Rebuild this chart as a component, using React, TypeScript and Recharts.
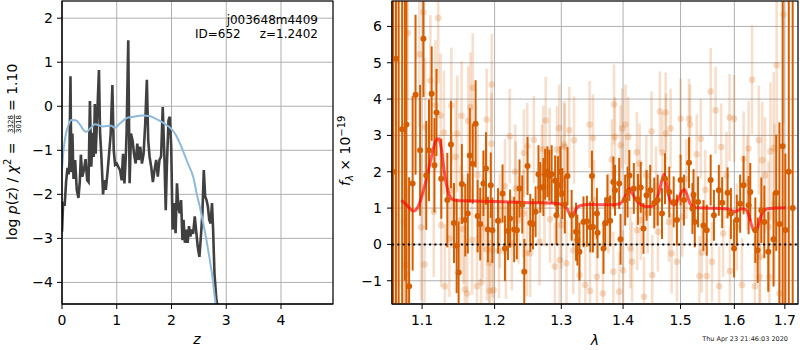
import React from 'react';
import { ComposedChart, Line, Scatter, ErrorBar, XAxis, YAxis, CartesianGrid, ReferenceLine } from 'recharts';

const FONT = '"DejaVu Sans", Verdana, sans-serif';

// ---------- left panel: log p(z) ----------
const pzZ = [0, 0.02, 0.05, 0.075, 0.1, 0.12, 0.135, 0.155, 0.17, 0.19, 0.21, 0.24, 0.27, 0.3, 0.325, 0.345, 0.37, 0.4, 0.43, 0.46, 0.485, 0.51, 0.535, 0.56, 0.58, 0.6, 0.615, 0.645, 0.675, 0.695, 0.72, 0.75, 0.775, 0.8, 0.83, 0.86, 0.89, 0.92, 0.945, 0.97, 1.0, 1.03, 1.06, 1.09, 1.115, 1.14, 1.165, 1.18, 1.21, 1.235, 1.26, 1.29, 1.315, 1.345, 1.375, 1.4, 1.43, 1.46, 1.49, 1.52, 1.55, 1.575, 1.6, 1.63, 1.66, 1.69, 1.72, 1.75, 1.78, 1.81, 1.84, 1.87, 1.895, 1.915, 1.945, 1.97, 1.995, 2.02, 2.045, 2.075, 2.1, 2.125, 2.15, 2.175, 2.2, 2.22, 2.245, 2.27, 2.295, 2.32, 2.345, 2.37, 2.395, 2.425, 2.45, 2.48, 2.51, 2.54, 2.565, 2.59, 2.615, 2.64, 2.665, 2.69, 2.715, 2.74, 2.76, 2.785, 2.82, 2.85];
const pzLog = [-2.85, -2.2, -2.22, -1.71, -1.4, -1.55, -1.3, 0.68, -1.5, -0.62, -1.65, -1.22, -1.9, -2.08, -1.72, -1.1, -1.6, -1.45, -1.2, -1.68, -1.72, 0.12, -1.37, -0.6, -1.15, 0.05, -1.08, -0.15, 0.82, -0.6, -1.15, -2.0, -1.68, -1.9, -1.52, -1.08, -0.62, 0.48, -1.0, -1.33, -1.3, -1.38, -1.45, -1.68, -1.08, -1.75, -1.15, -0.6, 1.5, -1.75, -0.62, -0.78, -1.08, -1.3, -0.85, -1.22, -0.92, -1.3, -1.08, -0.4, 0.6, -0.78, -1.15, -1.38, -1.72, -1.45, -1.22, -1.6, -1.22, -1.14, -0.02, -1.14, -2.36, -1.38, -0.32, -0.24, -0.92, -2.8, -2.2, -2.88, -1.75, -2.28, -2.43, -2.13, -3.04, -2.58, -3.1, -2.8, -3.1, -2.72, -2.96, -2.8, -2.9, -2.5, -2.82, -3.2, -3.42, -2.9, -2.42, -1.45, -2.05, -2.13, -2.28, -2.58, -2.66, -2.2, -2.8, -3.8, -4.4, -4.6];

const priorZ = [0, 0.02, 0.06, 0.12, 0.17, 0.25, 0.33, 0.4, 0.45, 0.52, 0.6, 0.75, 0.9, 0.96, 1.05, 1.18, 1.3, 1.48, 1.6, 1.69, 1.8, 1.9, 1.97, 2.08, 2.18, 2.3, 2.4, 2.46, 2.52, 2.58, 2.64, 2.7, 2.75, 2.79, 2.83];
const priorLog = [-1.45, -1.1, -0.7, -0.42, -0.31, -0.32, -0.42, -0.55, -0.58, -0.5, -0.41, -0.46, -0.44, -0.49, -0.4, -0.27, -0.24, -0.21, -0.22, -0.27, -0.34, -0.42, -0.48, -0.65, -0.92, -1.3, -1.62, -1.98, -2.3, -2.66, -3.05, -3.49, -3.9, -4.33, -4.7];

const zTicks = [0, 1, 2, 3, 4];
const pzTicks = [-4, -3, -2, -1, 0, 1, 2];

// ---------- right panel: spectrum ----------
const darkLam = [1.0625, 1.066, 1.0695, 1.074, 1.0775, 1.0795, 1.083, 1.0876, 1.0914, 1.0974, 1.1018, 1.1055, 1.1092, 1.1127, 1.1164, 1.1192, 1.1256, 1.1338, 1.1388, 1.1429, 1.1466, 1.1493, 1.1538, 1.1585, 1.162, 1.1648, 1.1689, 1.173, 1.1758, 1.1795, 1.184, 1.1877, 1.1904, 1.1945, 1.1968, 1.2049, 1.2115, 1.215, 1.2195, 1.2225, 1.2285, 1.2325, 1.2364, 1.2405, 1.2435, 1.2484, 1.2525, 1.2565, 1.2605, 1.2649, 1.2675, 1.2724, 1.275, 1.2785, 1.2814, 1.285, 1.2904, 1.2925, 1.2949, 1.2985, 1.3016, 1.3055, 1.3097, 1.3162, 1.3232, 1.3253, 1.3286, 1.3351, 1.3406, 1.346, 1.3487, 1.3503, 1.3568, 1.3578, 1.3675, 1.3703, 1.374, 1.3784, 1.3838, 1.3865, 1.3935, 1.3958, 1.4035, 1.4076, 1.4106, 1.4182, 1.4252, 1.43, 1.4347, 1.44, 1.4464, 1.4534, 1.4594, 1.467, 1.4723, 1.4799, 1.4877, 1.4935, 1.5, 1.5061, 1.5153, 1.5215, 1.5235, 1.5258, 1.5318, 1.5418, 1.5479, 1.5552, 1.5613, 1.5705, 1.5768, 1.5871, 1.5934, 1.5995, 1.6047, 1.6112, 1.6178, 1.6276, 1.6309, 1.6408, 1.6454, 1.6527, 1.6586, 1.6665, 1.677, 1.6824, 1.6889, 1.6955, 1.701, 1.708, 1.716];
const darkFlux = [2.0, 5.11, 7.2, 3.17, 8.0, 3.3, -1.15, 1.68, 4.12, 2.59, 5.66, 1.9, 2.59, 4.15, 2.18, 3.63, 1.81, 1.22, 2.75, 0.59, -0.04, -0.77, 1.66, 0.67, 0.85, 2.45, 2.22, 3.32, 0.78, 0.56, 1.68, 2.09, 0.41, 1.63, 0.39, 0.65, 1.4, -0.11, 0.37, 0.71, 0.41, 0.39, 1.54, 1.1, -0.75, 2.16, 0.59, 0.56, 0.9, 1.93, 1.57, 1.58, 1.93, 2.0, 1.9, 1.93, 1.75, 0.8, 1.63, 2.0, 1.4, 1.1, 1.88, 0.8, 0.35, 0.12, -0.2, 0.62, 0.64, 0.48, 1.88, 0.48, 0.85, 0.32, -0.11, 0.59, 1.22, 0.65, 1.72, 1.49, 1.68, 0.14, 1.22, 1.44, 1.9, 1.54, 1.24, 1.57, 0.44, 1.35, 1.49, 1.14, 1.22, 0.85, 1.81, 1.44, 1.17, 0.67, 1.77, 1.22, 2.25, 0.99, 1.37, 0.62, 1.17, 0.52, 0.39, 1.77, 0.8, 1.49, 1.15, 1.42, 0.85, -0.11, 0.67, 1.12, 1.63, 1.08, 1.44, 0.39, -0.16, 0.94, 0.62, -0.2, 0.14, 1.42, 0.56, 2.7, 0.4, 2.0, 1.0];
const darkErr = [9, 9, 9, 9, 9, 6, 3, 2.4, 2.2, 1.8, 1.6, 1.5, 1.4, 1.3, 1.3, 1.2, 1.1, 1.3, 1.2, 1.1, 1.3, 1.4, 1.1, 1.0, 1.1, 1.3, 1.1, 1.2, 1.0, 1.0, 0.9, 1.0, 0.9, 0.9, 0.9, 0.9, 0.8, 0.9, 0.8, 0.8, 0.9, 0.8, 0.8, 0.8, 0.9, 0.8, 0.8, 0.7, 0.7, 0.8, 0.7, 0.8, 0.7, 0.7, 0.7, 0.8, 0.7, 0.8, 0.8, 0.7, 0.7, 0.8, 0.8, 0.7, 0.8, 0.7, 0.8, 0.7, 0.7, 0.7, 0.7, 0.7, 0.7, 0.7, 0.7, 0.7, 0.7, 0.7, 0.7, 0.7, 0.7, 0.7, 0.7, 0.7, 0.7, 0.7, 0.7, 0.7, 0.7, 0.7, 0.7, 0.7, 0.7, 0.7, 0.7, 0.7, 0.7, 0.7, 0.7, 0.7, 0.7, 0.7, 0.7, 0.7, 0.7, 0.7, 0.7, 0.7, 0.7, 0.7, 0.7, 0.7, 0.7, 0.8, 0.7, 0.8, 0.8, 0.8, 0.8, 0.9, 0.9, 0.9, 1.0, 1.1, 1.3, 1.6, 2.8, 9, 2.1, 9, 9];

const lightLam = [1.076, 1.0782, 1.0804, 1.0812, 1.0965, 1.0987, 1.1018, 1.1032, 1.1041, 1.111, 1.1155, 1.1178, 1.1215, 1.1247, 1.1256, 1.1292, 1.1305, 1.1366, 1.1393, 1.14, 1.1452, 1.1475, 1.1521, 1.1534, 1.1558, 1.1579, 1.1612, 1.1626, 1.1658, 1.1681, 1.1689, 1.1749, 1.1758, 1.1808, 1.1832, 1.185, 1.1886, 1.189, 1.1922, 1.1932, 1.1955, 1.1959, 1.1968, 1.1984, 1.2064, 1.2075, 1.215, 1.2164, 1.2219, 1.23, 1.2251, 1.2309, 1.2349, 1.2424, 1.2429, 1.2475, 1.248, 1.2525, 1.2579, 1.2665, 1.27, 1.272, 1.274, 1.2759, 1.2819, 1.2825, 1.29, 1.2934, 1.2969, 1.2975, 1.3, 1.3003, 1.3044, 1.3054, 1.3081, 1.3124, 1.3189, 1.32, 1.3286, 1.3379, 1.3449, 1.3455, 1.3503, 1.3519, 1.3568, 1.3666, 1.3757, 1.3812, 1.3838, 1.3849, 1.3865, 1.3935, 1.3958, 1.3984, 1.4, 1.4041, 1.4087, 1.4124, 1.4153, 1.4235, 1.424, 1.4281, 1.43, 1.4357, 1.4395, 1.4418, 1.4487, 1.4499, 1.4565, 1.4598, 1.4633, 1.4676, 1.4734, 1.474, 1.4792, 1.4822, 1.4839, 1.4935, 1.5, 1.503, 1.5105, 1.5153, 1.5171, 1.5294, 1.5343, 1.5368, 1.5386, 1.545, 1.5478, 1.5552, 1.5576, 1.5644, 1.5711, 1.5749, 1.5787, 1.585, 1.5908, 1.5915, 1.5995, 1.6047, 1.6147, 1.6178, 1.625, 1.6276, 1.6344, 1.6399, 1.6476, 1.6489, 1.6502, 1.6543, 1.66, 1.6671, 1.6687, 1.6708, 1.6774, 1.6788, 1.6833, 1.6888, 1.6971];
const lightFlux = [0.62, -0.57, -0.82, 5.82, 5.23, 0.47, 6.39, -0.55, 3.23, 4.51, 0.9, 3.83, 6.23, 3.55, 0.53, 3.08, -1.15, 0.16, 3.82, 1.5, 2.41, 3.05, 0.67, 3.54, 0.42, -1.24, -1.35, 3.4, 3.78, 0.12, 4.31, -1.15, 1.9, -1.04, 0.46, 1.2, 3.44, -0.14, -0.51, -1.28, 2.77, 4.4, -0.16, -1.26, -0.18, 0.65, 1.6, -0.2, 2.98, 2.0, 0.03, 1.54, 0.67, 0.85, 2.52, -0.23, 2.7, -0.25, 2.88, 0.07, 2.1, 2.62, 1.14, 3.41, 2.56, 0.69, -0.61, 2.61, 3.2, -0.43, 1.8, 0.53, 2.75, 2.68, -0.52, 3.14, -0.16, 2.87, -0.84, -1.12, 3.3, -1.28, 2.93, 1.22, -0.89, -1.35, 0.85, 2.34, -0.75, 3.85, 2.96, -1.3, 2.73, 3.19, -0.71, 3.3, 2.96, -0.11, -0.48, 2.54, 0.39, 2.23, 0.67, -1.44, 1.9, 0.85, 3.11, -0.84, 1.6, 0.35, 3.66, 2.53, 3.63, 3.05, 0.62, 3.19, -0.25, -0.48, 3.46, 0.76, 1.8, 3.46, 3.3, 2.48, -0.87, 2.91, -0.23, 1.5, -0.87, 4.21, -0.48, 3.69, -1.15, 2.68, 0.3, 1.9, 3.49, -0.73, 3.46, 0.48, -1.12, 2.36, 1.7, 2.64, 4.53, -1.15, 2.87, -0.89, -0.34, 2.32, 1.9, 0.48, -0.89, 2.56, 2.65, 1.12, 4.93, -1.35, 6.33];
const lightErr = [2.5, 2.5, 2.4, 2.4, 2.0, 2.0, 2.0, 2.0, 1.9, 1.8, 1.8, 1.8, 1.8, 1.7, 1.7, 1.7, 1.7, 1.6, 1.6, 1.6, 1.6, 1.6, 1.5, 1.5, 1.5, 1.5, 1.5, 1.5, 1.5, 1.5, 1.5, 1.4, 1.4, 1.4, 1.4, 1.4, 1.4, 1.4, 1.4, 1.4, 1.4, 1.4, 1.3, 1.3, 1.3, 1.3, 1.3, 1.3, 1.3, 1.3, 1.3, 1.3, 1.2, 1.2, 1.2, 1.2, 1.2, 1.2, 1.2, 1.2, 1.2, 1.2, 1.2, 1.2, 1.2, 1.2, 1.2, 1.2, 1.2, 1.2, 1.2, 1.2, 1.2, 1.2, 1.2, 1.2, 1.2, 1.2, 1.2, 1.2, 1.2, 1.2, 1.2, 1.1, 1.2, 1.2, 1.1, 1.1, 1.1, 1.1, 1.1, 1.1, 1.1, 1.1, 1.1, 1.1, 1.1, 1.1, 1.1, 1.1, 1.1, 1.1, 1.1, 1.1, 1.1, 1.1, 1.1, 1.1, 1.1, 1.1, 1.1, 1.1, 1.1, 1.1, 1.1, 1.1, 1.1, 1.1, 1.1, 1.1, 1.1, 1.1, 1.1, 1.1, 1.1, 1.1, 1.1, 1.1, 1.1, 1.2, 1.1, 1.2, 1.1, 1.2, 1.2, 1.2, 1.2, 1.2, 1.2, 1.2, 1.3, 1.3, 1.3, 1.3, 1.5, 1.4, 1.5, 1.5, 1.5, 1.6, 1.6, 1.8, 1.8, 1.9, 2.1, 2.2, 2.4, 2.5, 3.0];

const modelLam = [1.073, 1.08, 1.0888, 1.095, 1.102, 1.108, 1.114, 1.118, 1.1223, 1.126, 1.13, 1.135, 1.14, 1.146, 1.16, 1.2, 1.25, 1.29, 1.303, 1.309, 1.313, 1.316, 1.319, 1.323, 1.33, 1.345, 1.38, 1.395, 1.402, 1.407, 1.4108, 1.415, 1.422, 1.43, 1.44, 1.45, 1.456, 1.462, 1.467, 1.4707, 1.474, 1.478, 1.484, 1.49, 1.496, 1.502, 1.5073, 1.512, 1.518, 1.525, 1.54, 1.57, 1.585, 1.595, 1.601, 1.607, 1.615, 1.622, 1.628, 1.633, 1.637, 1.641, 1.645, 1.65, 1.656, 1.665, 1.68, 1.702];
const modelFlux = [1.22, 1.08, 0.92, 1.05, 1.5, 2.0, 2.55, 2.85, 2.91, 2.6, 1.95, 1.45, 1.25, 1.21, 1.2, 1.18, 1.15, 1.13, 1.08, 0.98, 0.84, 0.76, 0.82, 0.97, 1.07, 1.1, 1.09, 1.12, 1.28, 1.47, 1.54, 1.42, 1.22, 1.1, 1.04, 1.05, 1.18, 1.45, 1.78, 1.93, 1.75, 1.4, 1.12, 1.1, 1.25, 1.45, 1.51, 1.35, 1.1, 1.02, 1.0, 0.99, 0.98, 0.93, 0.9, 0.94, 0.98, 0.96, 0.8, 0.55, 0.4, 0.37, 0.45, 0.7, 0.9, 0.98, 1.0, 1.01];

const lamTicks = [1.1, 1.2, 1.3, 1.4, 1.5, 1.6, 1.7];
const fluxTicks = [-1, 0, 1, 2, 3, 4, 5, 6];

const LAM_DOMAIN: [number, number] = [1.061, 1.727];
const FLUX_DOMAIN: [number, number] = [-1.64, 6.7];

const fmt = (v: number) => String(v).replace('-', '\u2212');

const DARK = '#d55e00';

const lightDot = (p: any) => (
  <circle cx={p.cx} cy={p.cy} r={3.3} fill="rgba(213,94,0,0.22)" stroke="none" />
);
const darkDot = (p: any) => (
  <circle cx={p.cx} cy={p.cy} r={3} fill={DARK} stroke="none" />
);

const tickStyle = { fill: '#000', fontSize: 14, fontFamily: FONT };

export default function App() {
  const pzData = pzZ.map((z, i) => ({ x: z, y: pzLog[i] }));
  const priorData = priorZ.map((z, i) => ({ x: z, y: priorLog[i] }));
  const darkData = darkLam.map((l, i) => ({ x: l, y: darkFlux[i], e: darkErr[i] }));
  const lightData = lightLam.map((l, i) => ({ x: l, y: lightFlux[i], e: lightErr[i] }));
  const modelData = modelLam.map((l, i) => ({ x: l, y: modelFlux[i] }));

  return (
    <div style={{ position: 'absolute', left: 0, top: 0, width: 800, height: 350, background: '#fff', fontFamily: FONT }}>
      {/* left panel */}
      <div style={{ position: 'absolute', left: 0, top: 0 }}>
        <ComposedChart width={340} height={350} margin={{ top: 1, right: 7, bottom: 16, left: 0 }}>
          <CartesianGrid stroke="#b0b0b0" strokeWidth={1} />
          <XAxis dataKey="x" type="number" domain={[0, 4.95]} ticks={zTicks} allowDataOverflow height={30}
            tickSize={5} tickMargin={6} tick={tickStyle} stroke="#000" tickFormatter={fmt} />
          <YAxis type="number" domain={[-4.49, 2.39]} ticks={pzTicks} allowDataOverflow width={62}
            tickSize={5} tickMargin={4} tick={tickStyle} stroke="#000" tickFormatter={fmt} />
          <Line data={pzData} dataKey="y" type="linear" stroke="#404040" strokeWidth={2.6} dot={false} isAnimationActive={false} />
          <Line data={priorData} dataKey="y" type="monotone" stroke="#8db9dc" strokeWidth={2} dot={false} isAnimationActive={false} />
        </ComposedChart>
      </div>

      {/* right panel: axes & grid */}
      <div style={{ position: 'absolute', left: 340, top: 0 }}>
        <ComposedChart width={460} height={350} data={modelData} margin={{ top: 1, right: 2, bottom: 16, left: 0 }}>
          <CartesianGrid stroke="#b0b0b0" strokeWidth={1} />
          <XAxis dataKey="x" type="number" scale="log" domain={LAM_DOMAIN} ticks={lamTicks} allowDataOverflow height={30}
            tickSize={5} tickMargin={6} tick={tickStyle} stroke="#000" tickFormatter={fmt} />
          <YAxis type="number" domain={FLUX_DOMAIN} ticks={fluxTicks} allowDataOverflow width={52}
            tickSize={5} tickMargin={5} tick={tickStyle} stroke="#000" tickFormatter={fmt} />
        </ComposedChart>
      </div>

      {/* right panel: data, clipped to the plot area */}
      <div style={{ position: 'absolute', left: 392, top: 1, width: 406, height: 303, overflow: 'hidden' }}>
        <div style={{ position: 'absolute', left: -52, top: -1 }}>
          <ComposedChart width={460} height={350} margin={{ top: 1, right: 2, bottom: 46, left: 52 }}>
            <XAxis dataKey="x" type="number" scale="log" domain={LAM_DOMAIN} allowDataOverflow hide />
            <YAxis type="number" domain={FLUX_DOMAIN} allowDataOverflow hide />
            <Scatter data={lightData} dataKey="y" shape={lightDot} isAnimationActive={false}>
              <ErrorBar dataKey="e" direction="y" width={0} stroke="rgba(213,94,0,0.2)" strokeWidth={2.6} />
            </Scatter>
            <Scatter data={darkData} dataKey="y" shape={darkDot} isAnimationActive={false}>
              <ErrorBar dataKey="e" direction="y" width={0} stroke={DARK} strokeWidth={2} />
            </Scatter>
            <Line data={modelData} dataKey="y" type="monotone" stroke="rgba(255,0,0,0.65)" strokeWidth={3} dot={false} isAnimationActive={false} />
            <ReferenceLine y={0} stroke="#000" strokeWidth={2} strokeDasharray="2 3.3" />
          </ComposedChart>
        </div>
      </div>

      <svg width={800} height={350} style={{ position: 'absolute', left: 0, top: 0, pointerEvents: 'none' }} fontFamily={FONT}>
        <rect x={62} y={1} width={271} height={303} fill="none" stroke="#000" strokeWidth={1.1} />
        <rect x={392} y={1} width={406} height={303} fill="none" stroke="#000" strokeWidth={1.1} />
        <text x={318} y={24} fontSize={12} textAnchor="end">j003648m4409</text>
        <text x={195} y={38} fontSize={12}>ID=652</text>
        <text x={318} y={38} fontSize={12} textAnchor="end">z=1.2402</text>
        <text x={197} y={344} fontSize={14} fontStyle="italic" textAnchor="middle">z</text>
        <text x={595} y={345} fontSize={14} fontStyle="italic" textAnchor="middle">λ</text>
        <g transform="translate(17,240) rotate(-90)">
          <text x={0} y={0} fontSize={14}>log <tspan fontStyle="italic">p</tspan>(<tspan fontStyle="italic">z</tspan>) / <tspan fontStyle="italic">χ</tspan><tspan fontSize={10} dy={-6}>2</tspan><tspan dy={6}> =</tspan></text>
          <text x={116} y={-4} fontSize={7} textAnchor="middle">3328</text>
          <line x1={106.5} x2={125.5} y1={-2.6} y2={-2.6} stroke="#000" strokeWidth={0.7} />
          <text x={116} y={3.5} fontSize={7} textAnchor="middle">3018</text>
          <text x={129} y={0} fontSize={14}>= 1.10</text>
        </g>
        <g transform="translate(350,186) rotate(-90)">
          <text x={0} y={0} fontSize={14}><tspan fontStyle="italic">f</tspan><tspan fontSize={10} fontStyle="italic" dy={3}>λ</tspan><tspan dy={-3}> × 10</tspan><tspan fontSize={10} dy={-5}>−19</tspan></text>
        </g>
        <text x={788} y={341} fontSize={6.5} textAnchor="end" fill="#222">Thu Apr 23 21:46:03 2020</text>
      </svg>
    </div>
  );
}
